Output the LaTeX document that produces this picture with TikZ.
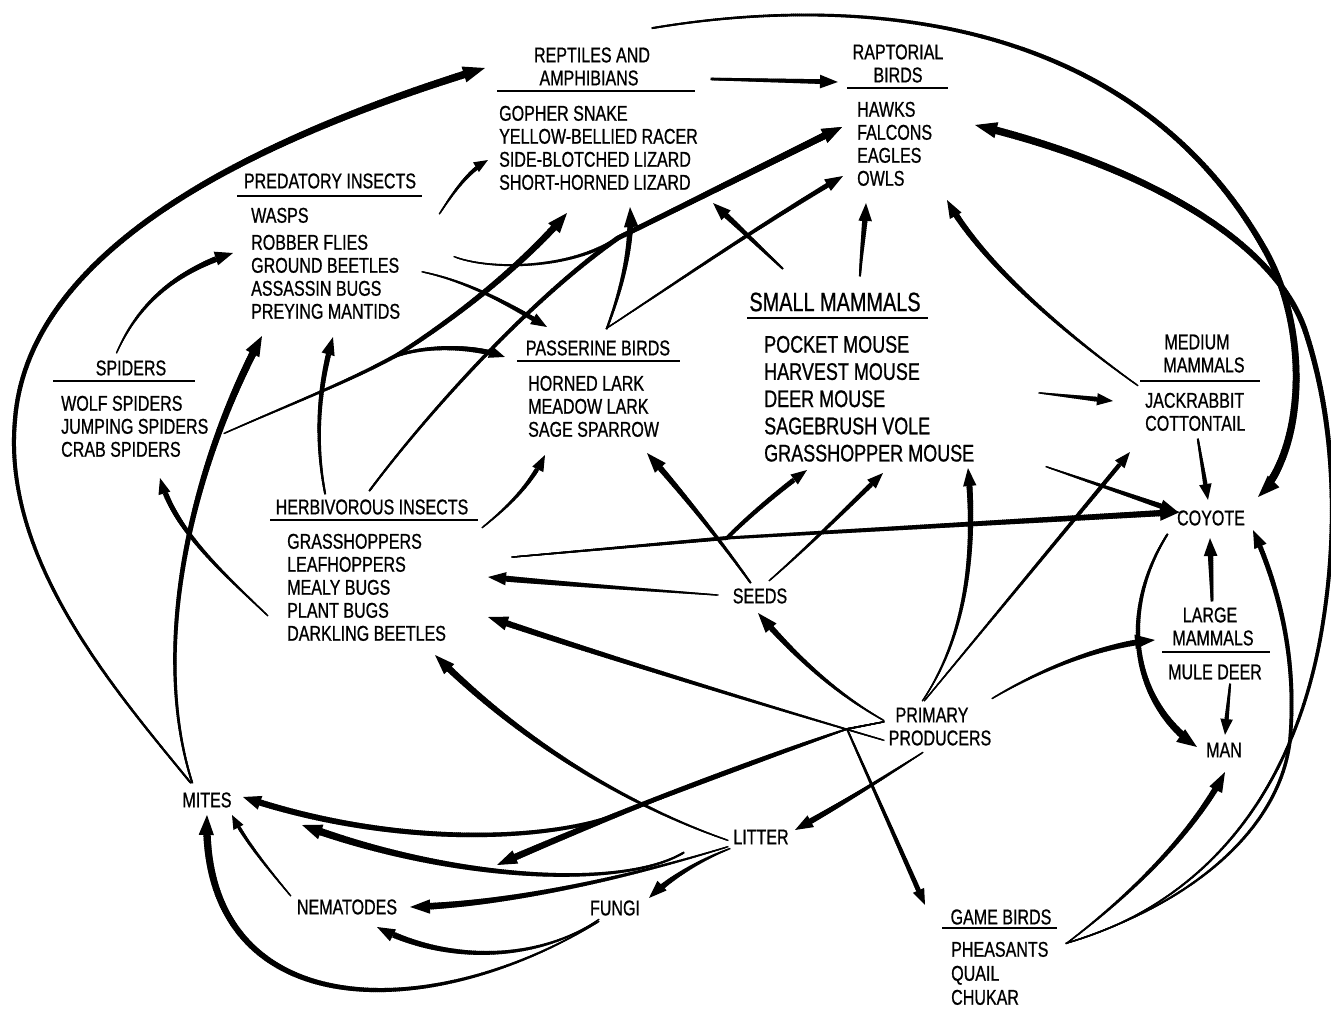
\documentclass[tikz,border=0pt]{standalone}
\usepackage{fontspec}
\newfontfamily\lab[FakeStretch=0.75,FakeBold=0.8]{Liberation Sans}
\usetikzlibrary{arrows.meta,decorations.markings,calc}
\tikzset{
 lab/.style={font=\lab\fontsize{21.4}{23}\selectfont, inner sep=0pt},
 lst/.style={lab, align=left, anchor=north west},
 ul/.style={line width=1.4pt},
 tp/.style n args={4}{line width=1.2*#1pt, line cap=round, -{Triangle[length=#3pt,width=#4pt]},
   postaction={decorate, decoration={markings,
     mark=between positions 0 and -#3pt step 2pt with {\pgfsetarrows{-}\pgfmathsetmacro\myw{1.25*(#1+(#2-#1)*2*\pgfkeysvalueof{/pgf/decoration/mark info/sequence number}/\pgfdecoratedpathlength)}\pgfsetlinewidth{\myw pt}\pgfsetbuttcap\pgfpathmoveto{\pgfqpoint{-1.5pt}{0pt}}\pgfpathlineto{\pgfqpoint{1.5pt}{0pt}}\pgfusepath{stroke}}}}}
}
\begin{document}
\begin{tikzpicture}[x=1pt,y=-1pt]
\fill[white] (0,0) rectangle (1331,1016);
\useasboundingbox (0,0) rectangle (1331,1016);
% ---------- nodes
\node[lab] (rep1) at (592,55) {REPTILES AND};
\node[lab] (rep2) at (589,78) {AMPHIBIANS};
\node[lst] (replist) at (499,105.6) {GOPHER SNAKE\\YELLOW-BELLIED RACER\\SIDE-BLOTCHED LIZARD\\SHORT-HORNED LIZARD};
\node[lab] (rap1) at (898,52) {RAPTORIAL};
\node[lab] (rap2) at (898,75) {BIRDS};
\node[lst] (raplist) at (857,101.6) {HAWKS\\FALCONS\\EAGLES\\OWLS};
\node[lab] (predhd) at (330,181) {PREDATORY INSECTS};
\node[lst] (predlist) at (251,207.6) {WASPS\\[4pt]ROBBER FLIES\\GROUND BEETLES\\ASSASSIN BUGS\\PREYING MANTIDS};
\node[lab] (sphd) at (131,368) {SPIDERS};
\node[lst] (splist) at (61,395.6) {WOLF SPIDERS\\JUMPING SPIDERS\\CRAB SPIDERS};
\node[lab] (pashd) at (598,348) {PASSERINE BIRDS};
\node[lst] (paslist) at (528,375.6) {HORNED LARK\\MEADOW LARK\\SAGE SPARROW};
\node[lab, font=\lab\fontsize{26.5}{27}\selectfont] (smhd) at (835,302) {SMALL MAMMALS};
\node[lst, font=\lab\fontsize{24}{27.2}\selectfont] (smlist) at (764,335.7) {POCKET MOUSE\\HARVEST MOUSE\\DEER MOUSE\\SAGEBRUSH VOLE\\GRASSHOPPER MOUSE};
\node[lab] (herbhd) at (372,507) {HERBIVOROUS INSECTS};
\node[lst] (herblist) at (287,533.6) {GRASSHOPPERS\\LEAFHOPPERS\\MEALY BUGS\\PLANT BUGS\\DARKLING BEETLES};
\node[lab] (med1) at (1197,342) {MEDIUM};
\node[lab] (med2) at (1204,365) {MAMMALS};
\node[lst] (medlist) at (1145,392.6) {JACKRABBIT\\COTTONTAIL};
\node[lab] (coyote) at (1211,518) {COYOTE};
\node[lab] (lar1) at (1210,615) {LARGE};
\node[lab] (lar2) at (1213,638) {MAMMALS};
\node[lab] (mule) at (1215,672) {MULE DEER};
\node[lab] (man) at (1224,750) {MAN};
\node[lab] (seeds) at (760,596) {SEEDS};
\node[lab] (pp1) at (932,715) {PRIMARY};
\node[lab] (pp2) at (940,738) {PRODUCERS};
\node[lab] (litter) at (761,837) {LITTER};
\node[lab] (fungi) at (615,908) {FUNGI};
\node[lab] (nema) at (347,907) {NEMATODES};
\node[lab] (mites) at (207,800) {MITES};
\node[lab] (gamehd) at (1001,917) {GAME BIRDS};
\node[lst, font=\lab\fontsize{21.4}{24}\selectfont] (gamelist) at (951,941.6) {PHEASANTS\\QUAIL\\CHUKAR};
% ---------- underlines
\draw[ul] (497,91)--(695,91);
\draw[ul] (847,88)--(948,88);
\draw[ul] (237,196)--(422,196);
\draw[ul] (53,381)--(195,381);
\draw[ul] (517,361)--(680,361);
\draw[ul] (747,318)--(928,318);
\draw[ul] (270,520)--(478,520);
\draw[ul] (1140,381)--(1260,381);
\draw[ul] (1162,652)--(1270,652);
\draw[ul] (942,928)--(1057,928);
% ---------- junction coordinates
\coordinate (spS) at ($(splist.north west)+(164,37.4)$);
\coordinate (spB) at ($(spS)+(165,-74.5)$);
\coordinate (rM) at ($(raplist.north west)+(-239,136.4)$);
\coordinate (rE) at ($(raplist.north west)+(-15,25.4)$);
\coordinate (hS) at ($(herblist.north west)+(226,23.4)$);
\coordinate (hj) at ($(seeds)+(-33,-58)$);
\coordinate (ppS) at ($(pp1)+(-49,7)$);
\coordinate (pj) at ($(pp2)+(-93,-9)$);
\coordinate (pm) at ($(litter)+(-138,-25)$);
\coordinate (gS) at ($(gamelist.north west)+(116,1.4)$);
% ---------- mites
\draw[tp={1.5}{6}{22}{16}] ($(mites)+(-17,-18)$) .. controls (152.5,736) and (105.5,680.5) .. (69.5,619) .. controls (33.5,557.5) and (8.5,490) .. (15,420) .. controls (21.5,335) and (80.25,265) .. (166.75,207.25) .. controls (253.25,149.5) and (367.5,104) .. ($(rep1)+(-107,13)$);
\draw[tp={1.5}{6}{20}{15}] ($(mites)+(-15,-18)$) .. controls (150,650) and (190,470) .. ($(predlist.north west)+(11,128.4)$);
% ---------- herbivorous insects
\draw[tp={1}{4.5}{16}{12}] ($(herblist.north west)+(-20,81.4)$) .. controls (220,570) and (175,530) .. ($(splist.north west)+(99,82.4)$);
\draw[tp={1.5}{4.5}{18}{13}] ($(herbhd)+(-47,-14)$) .. controls (315,440) and (318,390) .. ($(predlist.north west)+(82,129.4)$);
\draw[tp={1}{4}{16}{12}] ($(herbhd)+(111,20)$) .. controls (510,505) and (530,485) .. ($(paslist.north west)+(17,79.4)$);
\draw[tp={1.5}{5.5}{20}{15}] ($(herbhd)+(-2,-17)$) .. controls (430,410) and (530,300) .. (rM) -- (rE);
\draw[tp={1}{5}{20}{15}] (hS) -- (hj) -- ($(coyote)+(-31,-6)$);
\draw[tp={1}{4}{16}{12}] (hS) -- (hj) .. controls (750,515) and (780,490) .. ($(smlist.north west)+(43,134.3)$);
% ---------- spiders
\draw[tp={1}{5}{18}{14}] ($(sphd)+(-14,-16)$) .. controls (140,300) and (180,270) .. ($(predlist.north west)+(-18,45.4)$);
\draw[tp={1}{5.5}{20}{15}] (spS) .. controls (300,400) and (350,381) .. (397,355) .. controls (450,322) and (520,268) .. ($(replist.north west)+(68,107.4)$);
\draw[tp={2}{4.5}{16}{12}] (spB) .. controls (420,345) and (470,345) .. ($(pashd)+(-93,9)$);
% ---------- predatory insects
\draw[tp={1}{5.5}{20}{15}] ($(predlist.north west)+(204,49.4)$) .. controls (490,270) and (570,270) .. (rM) -- (rE);
\draw[tp={1}{4}{16}{12}] ($(predlist.north west)+(172,64.4)$) .. controls (470,282) and (510,305) .. ($(pashd)+(-51,-21)$);
\draw[tp={1}{3.5}{14}{11}] ($(predhd)+(110,32)$) .. controls (455,190) and (468,172) .. ($(replist.north west)+(-11,54.4)$);
% ---------- seeds
\draw[tp={1}{5}{18}{13}] ($(seeds)+(-43,-1)$) .. controls (650,590) and (550,583) .. ($(herblist.north west)+(201,43.4)$);
\draw[tp={1.5}{5}{20}{14}] ($(seeds)+(-10,-14)$) .. controls (720,540) and (680,490) .. ($(paslist.north west)+(119,77.4)$);
\draw[tp={1}{4}{16}{12}] ($(seeds)+(10,-16)$) .. controls (810,545) and (850,505) .. ($(smlist.north west)+(119,137.3)$);
% ---------- primary producers
\draw[tp={1}{5}{20}{14}] ($(pp1)+(-49,5)$) .. controls (830,690) and (790,650) .. ($(seeds)+(-2,17)$);
\draw[tp={1}{5}{18}{13}] ($(pp1)+(-9,-15)$) .. controls (970,630) and (975,540) .. ($(smlist.north west)+(204,132.3)$);
\draw[tp={1}{3.5}{16}{12}] ($(pp1)+(-7,-15)$) -- ($(medlist.north west)+(-15,59.4)$);
\draw[tp={1}{5}{20}{14}] ($(pp2)+(53,-40)$) .. controls (1040,670) and (1100,645) .. ($(lar2)+(-58,2)$);
\draw[tp={1}{5}{18}{13}] ($(pp2)+(-18,15)$) .. controls (880,780) and (840,805) .. ($(litter)+(34,-7)$);
\draw[tp={1}{4}{16}{12}] (ppS) -- (pj) -- ($(gamehd)+(-76,-12)$);
\draw[tp={1}{5}{18}{14}] (ppS) -- (pj) -- (pm) .. controls (591.5,826) and (535.75,835.5) .. (468.25,834.9) .. controls (400.75,834.25) and (321.5,823.5) .. ($(mites)+(36,-3)$);
\draw[tp={1}{5.5}{20}{14}] (ppS) -- (pj) .. controls (750,760) and (600,820) .. ($(nema)+(150,-42)$);
\draw[tp={1}{5}{20}{14}] ($(pp2)+(-57,2)$) .. controls (780,710) and (600,655) .. ($(herblist.north west)+(201,83.4)$);
% ---------- litter
\draw[tp={1}{5.5}{20}{14}] ($(litter)+(-34,3)$) .. controls (640,810) and (530,750) .. ($(herblist.north west)+(148,121.4)$);
\draw[tp={1.5}{6}{20}{15}] ($(litter)+(-78,16)$) .. controls (651.5,871.5) and (593.25,878.25) .. (524.4,873.5) .. controls (455.5,868.75) and (376,852.5) .. ($(mites)+(95,25)$);
\draw[tp={1}{5.5}{20}{14}] ($(litter)+(-34,10)$) .. controls (620,880) and (500,905) .. ($(nema)+(63,0)$);
\draw[tp={1}{5}{18}{13}] ($(litter)+(-32,12)$) .. controls (700,860) and (670,878) .. ($(fungi)+(34,-10)$);
% ---------- fungi, nematodes
\draw[tp={1}{5}{18}{13}] ($(fungi)+(-17,12)$) .. controls (569,940) and (532,951.25) .. (493.1,952.75) .. controls (454.25,954.25) and (413.5,946) .. ($(nema)+(30,20)$);
\draw[tp={1}{6}{20}{15}] ($(fungi)+(-17,14)$) .. controls (509,976) and (409.5,1000.5) .. (333.1,985.9) .. controls (294.9,978.6) and (262.5,961.5) .. (240.1,933.4) .. controls (217.7,905.3) and (205.25,866.25) .. ($(mites)+(0,15)$);
\draw[tp={1}{3}{14}{11}] ($(nema)+(-57,-12)$) .. controls (265,865) and (245,840) .. ($(mites)+(25,15)$);
% ---------- upper and right side
\draw[tp={2}{4}{18}{13}] ($(rep2)+(123,1)$) -- ($(rap2)+(-60,7)$);
\draw[tp={1.5}{6}{22}{16}] ($(rep1)+(61,-27)$) .. controls (751.5,11.5) and (870.75,7) .. (982.25,36.6) .. controls (1093.75,66.25) and (1197.5,130) .. (1265,250) .. controls (1287.5,290) and (1297.5,340) .. (1296,385.9) .. controls (1294.5,431.75) and (1281.5,473.5) .. ($(coyote)+(47,-21)$);
\draw[tp={1}{6}{22}{16}] (gS) .. controls (1133.5,924) and (1189.25,888.25) .. (1232.1,837.25) .. controls (1275,786.25) and (1305,720) .. (1320,640) .. controls (1340,530) and (1335,420) .. (1305,330) .. controls (1287.5,280) and (1241.25,237.5) .. (1181.25,203.1) .. controls (1121.25,168.75) and (1047.5,142.5) .. ($(raplist.north west)+(118,23.4)$);
\draw[tp={1}{4}{18}{13}] (gS) .. controls (1128.5,924) and (1181.75,895.75) .. (1220.9,861) .. controls (1260,826.25) and (1285,785) .. (1290,740) .. controls (1297,660) and (1280,590) .. ($(coyote)+(42,12)$);
\draw[tp={1}{5}{20}{14}] (gS) .. controls (1150,880) and (1200,820) .. ($(man)+(1,22)$);
\draw[tp={1.5}{6}{20}{15}] ($(coyote)+(-44,17)$) .. controls (1143.5,572.5) and (1134.25,613.75) .. (1139.25,651.5) .. controls (1144.25,689.25) and (1163.5,723.5) .. ($(man)+(-27,-3)$);
\draw[tp={2}{5}{18}{13}] ($(lar1)+(2,-15)$) -- ($(coyote)+(-1,20)$);
\draw[tp={1.5}{4}{16}{12}] ($(medlist.north west)+(53,47.4)$) -- ($(coyote)+(-3,-18)$);
\draw[tp={1.5}{4}{16}{12}] ($(mule)+(15,13)$) -- ($(man)+(1,-15)$);
\draw[tp={1}{4.5}{18}{13}] ($(smlist.north west)+(283,131.3)$) -- ($(coyote)+(-33,-6)$);
\draw[tp={1}{4.5}{16}{12}] ($(smlist.north west)+(276,57.3)$) -- ($(medlist.north west)+(-32,8.4)$);
\draw[tp={1}{5}{18}{13}] ($(med2)+(-67,20)$) .. controls (1060,330) and (980,260) .. ($(raplist.north west)+(90,98.4)$);
\draw[tp={1.5}{5}{18}{13}] ($(smhd)+(-53,-34)$) -- ($(replist.north west)+(214,97.4)$);
\draw[tp={1.5}{5}{18}{13}] ($(smhd)+(25,-27)$) .. controls (862,245) and (865,225) .. ($(raplist.north west)+(9,101.4)$);
\draw[tp={1.5}{5}{20}{14}] ($(pashd)+(9,-20)$) .. controls (625,280) and (632,240) .. ($(replist.north west)+(131,101.4)$);
\draw[tp={1}{4}{18}{13}] ($(pashd)+(9,-20)$) .. controls (680,280) and (760,225) .. ($(raplist.north west)+(-14,74.4)$);
\end{tikzpicture}
\end{document}
